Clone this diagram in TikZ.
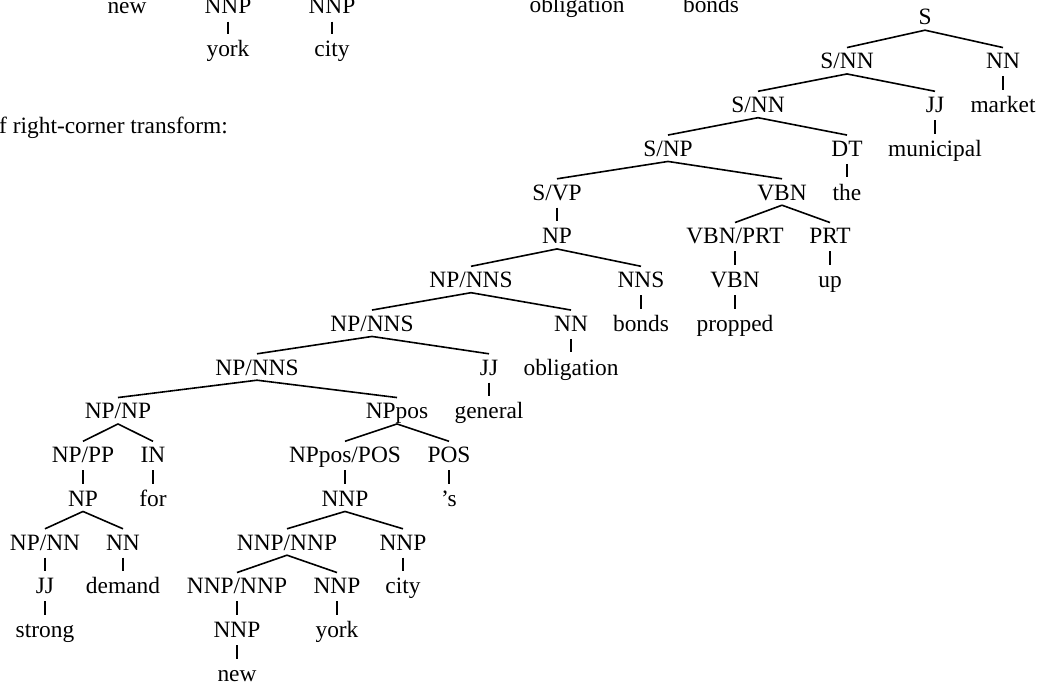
\documentclass[tikz,border=0pt]{standalone}
\usepackage{fontspec}
\setmainfont{Liberation Serif}
\usepackage{tikz}
\pgfdeclarelayer{edgelayer}
\pgfdeclarelayer{nodelayer}
\pgfsetlayers{edgelayer,nodelayer,main}
\tikzstyle{tag}=[inner sep=0pt, anchor=base, text height=21pt, text depth=5pt, font=\fontsize{23.4}{28}\selectfont]
\tikzstyle{unary}=[shorten <=2.5pt, shorten >=1.5pt]
\tikzstyle{branch}=[line width=1.6pt]

\begin{document}
\begin{tikzpicture}[x=1pt, y=1pt]
	\useasboundingbox (0, 0) rectangle (1039, -685);
	\begin{pgfonlayer}{nodelayer}
		\node [style=tag] (0) at (925, -25) {S};
		\node [style=tag] (1) at (847, -68.75) {S/NN};
		\node [style=tag] (2) at (1003, -68.75) {NN};
		\node [style=tag] (3) at (758, -112.5) {S/NN};
		\node [style=tag] (4) at (935, -112.5) {JJ};
		\node [style=tag] (5) at (1003, -112.5) {market};
		\node [style=tag] (6) at (668, -156.25) {S/NP};
		\node [style=tag] (7) at (847, -156.25) {DT};
		\node [style=tag] (8) at (935, -156.25) {municipal};
		\node [style=tag] (9) at (557, -200) {S/VP};
		\node [style=tag] (10) at (782, -200) {VBN};
		\node [style=tag] (11) at (847, -200) {the};
		\node [style=tag] (12) at (557, -243.75) {NP};
		\node [style=tag] (13) at (735, -243.75) {VBN/PRT};
		\node [style=tag] (14) at (830, -243.75) {PRT};
		\node [style=tag] (15) at (471, -287.5) {NP/NNS};
		\node [style=tag] (16) at (641, -287.5) {NNS};
		\node [style=tag] (17) at (735, -287.5) {VBN};
		\node [style=tag] (18) at (830, -287.5) {up};
		\node [style=tag] (19) at (372, -331.25) {NP/NNS};
		\node [style=tag] (20) at (571, -331.25) {NN};
		\node [style=tag] (21) at (641, -331.25) {bonds};
		\node [style=tag] (22) at (735, -331.25) {propped};
		\node [style=tag] (23) at (257, -375) {NP/NNS};
		\node [style=tag] (24) at (489, -375) {JJ};
		\node [style=tag] (25) at (571, -375) {obligation};
		\node [style=tag] (26) at (118, -418.75) {NP/NP};
		\node [style=tag] (27) at (397, -418.75) {NPpos};
		\node [style=tag] (28) at (489, -418.75) {general};
		\node [style=tag] (29) at (83, -462.5) {NP/PP};
		\node [style=tag] (30) at (153, -462.5) {IN};
		\node [style=tag] (31) at (345, -462.5) {NPpos/POS};
		\node [style=tag] (32) at (449, -462.5) {POS};
		\node [style=tag] (33) at (83, -506.25) {NP};
		\node [style=tag] (34) at (153, -506.25) {for};
		\node [style=tag] (35) at (345, -506.25) {NNP};
		\node [style=tag] (36) at (449, -506.25) {’s};
		\node [style=tag] (37) at (45, -550) {NP/NN};
		\node [style=tag] (38) at (123, -550) {NN};
		\node [style=tag] (39) at (287, -550) {NNP/NNP};
		\node [style=tag] (40) at (403, -550) {NNP};
		\node [style=tag] (41) at (45, -593.75) {JJ};
		\node [style=tag] (42) at (123, -593.75) {demand};
		\node [style=tag] (43) at (237, -593.75) {NNP/NNP};
		\node [style=tag] (44) at (337, -593.75) {NNP};
		\node [style=tag] (45) at (403, -593.75) {city};
		\node [style=tag] (46) at (45, -637.5) {strong};
		\node [style=tag] (47) at (237, -637.5) {NNP};
		\node [style=tag] (48) at (337, -637.5) {york};
		\node [style=tag] (49) at (237, -681.25) {new};
		\node [style=tag] (50) at (127, -14) {new};
		\node [style=tag] (51) at (228, -14) {NNP};
		\node [style=tag] (52) at (332, -14) {NNP};
		\node [style=tag] (53) at (228, -57) {york};
		\node [style=tag] (54) at (332, -57) {city};
		\node [style=tag] (55) at (577, -13) {obligation};
		\node [style=tag] (56) at (711, -13) {bonds};
		\node [style=tag, anchor=base west] (57) at (-1, -133) {f right-corner transform:};
	\end{pgfonlayer}
	\begin{pgfonlayer}{edgelayer}
		\draw [style=branch] (0.south) to (1.north);
		\draw [style=branch] (0.south) to (2.north);
		\draw [style=branch] (1.south) to (3.north);
		\draw [style=branch] (1.south) to (4.north);
		\draw [style=branch, style=unary] (2.south) to (5.north);
		\draw [style=branch] (3.south) to (6.north);
		\draw [style=branch] (3.south) to (7.north);
		\draw [style=branch, style=unary] (4.south) to (8.north);
		\draw [style=branch] (6.south) to (9.north);
		\draw [style=branch] (6.south) to (10.north);
		\draw [style=branch, style=unary] (7.south) to (11.north);
		\draw [style=branch, style=unary] (9.south) to (12.north);
		\draw [style=branch] (10.south) to (13.north);
		\draw [style=branch] (10.south) to (14.north);
		\draw [style=branch] (12.south) to (15.north);
		\draw [style=branch] (12.south) to (16.north);
		\draw [style=branch, style=unary] (13.south) to (17.north);
		\draw [style=branch, style=unary] (14.south) to (18.north);
		\draw [style=branch] (15.south) to (19.north);
		\draw [style=branch] (15.south) to (20.north);
		\draw [style=branch, style=unary] (16.south) to (21.north);
		\draw [style=branch, style=unary] (17.south) to (22.north);
		\draw [style=branch] (19.south) to (23.north);
		\draw [style=branch] (19.south) to (24.north);
		\draw [style=branch, style=unary] (20.south) to (25.north);
		\draw [style=branch] (23.south) to (26.north);
		\draw [style=branch] (23.south) to (27.north);
		\draw [style=branch, style=unary] (24.south) to (28.north);
		\draw [style=branch] (26.south) to (29.north);
		\draw [style=branch] (26.south) to (30.north);
		\draw [style=branch] (27.south) to (31.north);
		\draw [style=branch] (27.south) to (32.north);
		\draw [style=branch, style=unary] (29.south) to (33.north);
		\draw [style=branch, style=unary] (30.south) to (34.north);
		\draw [style=branch, style=unary] (31.south) to (35.north);
		\draw [style=branch, style=unary] (32.south) to (36.north);
		\draw [style=branch] (33.south) to (37.north);
		\draw [style=branch] (33.south) to (38.north);
		\draw [style=branch] (35.south) to (39.north);
		\draw [style=branch] (35.south) to (40.north);
		\draw [style=branch, style=unary] (37.south) to (41.north);
		\draw [style=branch, style=unary] (38.south) to (42.north);
		\draw [style=branch] (39.south) to (43.north);
		\draw [style=branch] (39.south) to (44.north);
		\draw [style=branch, style=unary] (40.south) to (45.north);
		\draw [style=branch, style=unary] (41.south) to (46.north);
		\draw [style=branch, style=unary] (43.south) to (47.north);
		\draw [style=branch, style=unary] (44.south) to (48.north);
		\draw [style=branch, style=unary] (47.south) to (49.north);
		\draw [style=branch, style=unary] (51.south) to (53.north);
		\draw [style=branch, style=unary] (52.south) to (54.north);
	\end{pgfonlayer}
\end{tikzpicture}
\end{document}
